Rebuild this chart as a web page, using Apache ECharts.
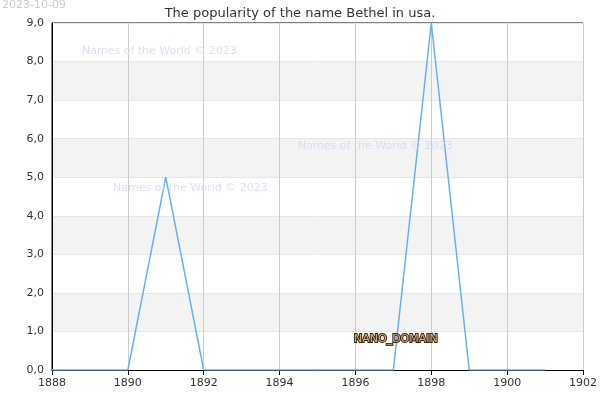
<!DOCTYPE html>
<html>
<head>
<meta charset="UTF-8"/>
<script src="https://cdn.jsdelivr.net/npm/echarts@6/dist/echarts.min.js"></script>
<style>body{margin:0}#main{width:600px;height:400px}</style>
</head>
<body>
<div id="main"></div>
<script>
var years = [1888,1889,1890,1891,1892,1893,1894,1895,1896,1897,1898,1899,1900,1901];
var counts = [0,0,0,5,0,0,0,0,0,0,9,0,0,0];
var points = years.map(function (y, i) { return [y, counts[i]]; });
var font = 'DejaVu Sans';
var wmColor = 'rgba(215,220,245,0.9)';

var myChart = echarts.init(document.getElementById('main'));
myChart.setOption({
    animation: false,
    title: { text: 'The popularity of the name Bethel in usa.', left: 'center', top: 2,
        textStyle: { fontFamily: font, fontSize: 13, fontWeight: 'normal', color: '#333' } },
    grid: { left: 52, right: 15, top: 23, bottom: 30, show: true, borderColor: '#000', borderWidth: 1 },
    graphic: [
        { type: 'text', z: 100, left: 2, top: 0, style: { text: '2023-10-09', fill: '#ccc', fontSize: 11, fontFamily: font } },
        { type: 'text', z: 100, left: 82, top: 46, style: { text: 'Names of the World © 2023', fill: wmColor, fontSize: 11, fontFamily: font } },
        { type: 'text', z: 100, left: 113, top: 183, style: { text: 'Names of the World © 2023', fill: wmColor, fontSize: 11, fontFamily: font } },
        { type: 'text', z: 100, left: 298, top: 141, style: { text: 'Names of the World © 2023', fill: wmColor, fontSize: 11, fontFamily: font } },
        { type: 'text', z: 100, left: 353, top: 333, style: { text: 'NANO_DOMAIN', fill: '#d8b488', stroke: '#3a2410', lineWidth: 2, fontSize: 11, fontFamily: font } }
    ],
    xAxis: {
        type: 'value', min: 1888, max: 1902, interval: 2,
        axisLine: { lineStyle: { color: '#000' } },
        axisTick: { show: true, lineStyle: { color: '#000' } },
        axisLabel: { fontFamily: font, fontSize: 11, color: '#333', formatter: function (v) { return String(v); } },
        splitLine: { show: true, lineStyle: { color: '#ccc' } }
    },
    yAxis: {
        type: 'value', min: 0, max: 9, interval: 1,
        axisLine: { show: true, lineStyle: { color: '#000' } },
        axisTick: { show: false },
        axisLabel: { fontFamily: font, fontSize: 11, color: '#333',
            formatter: function (v) { return v.toFixed(1).replace('.', ','); } },
        splitLine: { show: true, lineStyle: { color: '#e6e6e6' } },
        splitArea: { show: true, areaStyle: { color: ['#fff', '#f3f3f3'] } }
    },
    series: [{
        type: 'line', data: points, symbol: 'none',
        lineStyle: { color: '#6aaef0', width: 1.5 }
    }]
});
</script>
</body>
</html>
